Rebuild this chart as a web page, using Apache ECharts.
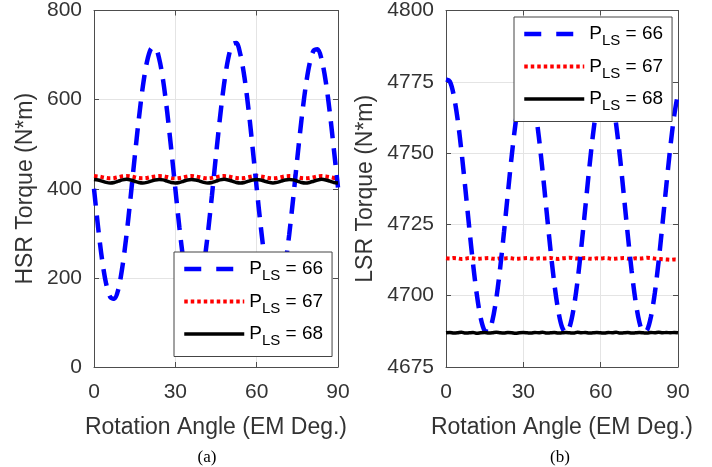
<!DOCTYPE html>
<html><head><meta charset="utf-8">
<script src="https://cdn.jsdelivr.net/npm/echarts@6/dist/echarts.min.js"></script>
<style>html,body{margin:0;padding:0;background:#fff}#c{width:712px;height:467px}</style>
</head><body><div id="c"></div>
<script>
// Rotation angle (EM deg.)
const angles = [0,1.5,3,4.5,6,7.5,9,10.5,12,13.5,15,16.5,18,19.5,21,22.5,24,25.5,27,28.5,
  30,31.5,33,34.5,36,37.5,39,40.5,42,43.5,45,46.5,48,49.5,51,52.5,54,55.5,57,58.5,
  60,61.5,63,64.5,66,67.5,69,70.5,72,73.5,75,76.5,78,79.5,81,82.5,84,85.5,87,88.5,90];

// (a) HSR torque
const hsr66 = [400,314,240,186,157,153,175,226,297,381,470,555,629,684,714,717,693,643,572,488,
  400,313,238,184,155,151,176,228,300,385,475,561,636,692,724,727,701,650,578,492,
  402,316,241,187,158,153,177,227,297,380,469,553,626,680,710,713,689,640,570,487,403];
const hsr67 = [428.5,427.6,426.1,424.3,423.4,424.1,426.0,427.9,
  428.6,427.7,425.9,424.0,423.6,424.3,426.1,427.7,
  428.4,427.9,426.2,424.2,423.3,424.2,425.9,427.8,
  428.7,427.6,426.0,424.1,423.5,424.4,426.2,427.9,
  428.5,427.8,425.8,424.2,423.6,424.1,426.0,427.7,
  428.6,427.7,426.1,424.3,423.4,424.2,426.1,427.8,
  428.4,427.9,426.0,424.0,423.5,424.3,425.9,427.9,
  428.6,427.7,426.1,424.2,423.5];
const hsr68 = [421.0,419.7,417.1,414.3,412.9,414.1,417.0,419.9,
  421.1,419.8,416.9,414.2,413.0,414.3,417.1,419.7,
  420.9,419.9,417.0,414.1,413.1,414.2,416.9,419.8,
  421.0,419.7,417.2,414.3,412.9,414.1,417.0,419.9,
  421.1,419.8,417.0,414.2,413.0,414.2,417.1,419.8,
  420.9,419.7,416.9,414.3,413.1,414.3,417.0,419.7,
  421.0,419.9,417.1,414.1,412.9,414.2,416.9,419.8,
  421.1,419.8,417.0,414.2,413.0];

// (b) LSR torque
const lsr66 = [4775.8,4775.1,4770.3,4761.9,4750.6,4737.6,4724.0,4711.1,4700.1,4692.0,
  4687.7,4687.4,4691.3,4698.9,4709.6,4722.3,4735.9,4749.1,4760.6,4769.4,
  4774.7,4775.9,4772.9,4765.9,4755.8,4743.4,4729.8,4716.4,4704.4,4695.0,
  4689.0,4687.0,4689.2,4695.4,4705.0,4717.1,4730.5,4744.0,4756.3,4766.3,
  4773.1,4776.0,4774.6,4769.1,4760.1,4748.5,4735.1,4721.5,4708.8,4698.3,
  4690.8,4687.3,4687.9,4692.6,4700.9,4712.2,4725.3,4738.9,4751.9,4763.0,4771.0];
const lsr67 = [4713.1,4713.0,4713.2,4713.1,4712.9,4713.0,4713.2,4713.1,4712.9,4713.0,
  4713.1,4713.2,4713.0,4712.9,4713.1,4713.0,4713.2,4713.1,4712.9,4713.0,
  4713.1,4713.2,4713.0,4712.9,4713.1,4713.0,4713.1,4713.2,4713.0,4712.9,
  4713.1,4713.2,4713.3,4713.1,4713.0,4713.1,4713.2,4713.0,4712.9,4713.1,
  4713.0,4713.2,4713.1,4712.9,4713.0,4713.1,4713.2,4713.0,4712.9,4713.1,
  4713.0,4713.1,4713.3,4713.2,4713.0,4712.9,4712.8,4712.7,4712.6,4712.7,4712.6];
const lsr68 = [4687.0,4687.1,4686.9,4687.0,4687.2,4686.9,4687.0,4687.1,4686.8,4687.0,
  4687.1,4686.9,4687.0,4687.2,4687.0,4686.9,4687.1,4687.0,4686.8,4687.0,
  4687.1,4687.0,4686.9,4687.1,4687.0,4687.2,4686.9,4687.0,4687.1,4686.9,
  4687.0,4687.1,4687.0,4686.9,4687.2,4687.0,4687.1,4686.9,4687.0,4687.1,
  4687.0,4686.9,4687.1,4687.0,4687.2,4686.9,4687.0,4687.1,4686.9,4687.0,
  4687.1,4687.0,4686.9,4687.1,4687.0,4687.2,4687.0,4687.1,4687.0,4687.1,4687.0];

const seriesNames = ['66','67','68'];
const xLabelName = 'Rotation Angle (EM Deg.)';
const yNames = ['HSR Torque (N*m)', 'LSR Torque (N*m)'];
const captions = ['(a)', '(b)'];

const FONT = 'Liberation Sans, Arial, Helvetica, sans-serif';
const TXT = '#333333';
const AX = '#4d4d4d';
const GRIDC = '#e4e4e4';

function pairs(v){ return angles.map((a,i)=>[a, v[i]]); }

function xAxes(g){
  return [{
    type:'value', gridIndex:g, min:0, max:90, interval:30, position:'bottom',
    axisLine:{show:true,onZero:false,lineStyle:{color:AX,width:1}},
    axisTick:{show:true,inside:true,length:5,lineStyle:{color:AX}},
    axisLabel:{color:TXT,fontSize:21,fontFamily:FONT,margin:15,formatter:v=>String(v)},
    splitLine:{show:true,lineStyle:{color:GRIDC,width:1}},
    name:xLabelName, nameLocation:'middle', nameGap:49,
    nameTextStyle:{color:TXT,fontSize:23,fontFamily:FONT}
  },{
    type:'value', gridIndex:g, min:0, max:90, interval:30, position:'top',
    axisLine:{show:true,onZero:false,lineStyle:{color:AX,width:1}},
    axisTick:{show:true,inside:true,length:5,lineStyle:{color:AX}},
    axisLabel:{show:false}, splitLine:{show:false}
  }];
}
function yAxes(g,min,max,step,name,gap){
  return [{
    type:'value', gridIndex:g, min:min, max:max, interval:step, position:'left',
    axisLine:{show:true,onZero:false,lineStyle:{color:AX,width:1}},
    axisTick:{show:true,inside:true,length:5,lineStyle:{color:AX}},
    axisLabel:{color:TXT,fontSize:21,fontFamily:FONT,margin:12,formatter:v=>String(v)},
    splitLine:{show:true,lineStyle:{color:GRIDC,width:1}},
    name:name, nameLocation:'middle', nameGap:gap,
    nameTextStyle:{color:TXT,fontSize:23,fontFamily:FONT}
  },{
    type:'value', gridIndex:g, min:min, max:max, interval:step, position:'right',
    axisLine:{show:true,onZero:false,lineStyle:{color:AX,width:1}},
    axisTick:{show:true,inside:true,length:5,lineStyle:{color:AX}},
    axisLabel:{show:false}, splitLine:{show:false}
  }];
}

const styles = {
  '66': {color:'#0000ff', width:4.5, type:[17,10], z:3},
  '67': {color:'#ff0000', width:4, type:[3.5,3], z:2},
  '68': {color:'#000000', width:3.5, type:'solid', z:4}
};
function mk(name, data, xi, yi){
  const s = styles[name];
  return {type:'line', name:name, data:pairs(data), xAxisIndex:xi, yAxisIndex:yi,
    symbol:'none', showSymbol:false, smooth:0.3, z:s.z, silent:true, animation:false,
    lineStyle:{color:s.color, width:s.width, type:s.type}, itemStyle:{color:s.color}};
}

const legendData = seriesNames.map(n=>({name:n,
  itemStyle:{opacity:0, color:'rgba(0,0,0,0)', borderWidth:0},
  lineStyle:{width:styles[n].width, type: n==='66'?[17,15]:styles[n].type, color:styles[n].color, opacity:1}}));
function legend(left, top){
  return {
    data:legendData, orient:'vertical', left:left, top:top, z:10,
    itemWidth:60, itemHeight:25, itemGap:8, padding:[7,9,8,8],
    backgroundColor:'#fff', borderColor:'#444', borderWidth:1, borderRadius:0,
    selectedMode:false,
    formatter: n => '{p|P}{s|LS}{e| = ' + n + '}',
    textStyle:{color:'#000', fontFamily:FONT,
      rich:{
        p:{fontSize:19, fontFamily:FONT, color:'#000'},
        s:{fontSize:15, fontFamily:FONT, color:'#000', padding:[14,0,0,0]},
        e:{fontSize:19, fontFamily:FONT, color:'#000'}
      }}
  };
}

const option = {
  backgroundColor:'#fff',
  animation:false,
  grid:[
    {left:94, top:10, width:244, height:357},
    {left:446, top:10, width:232, height:357}
  ],
  xAxis:[...xAxes(0), ...xAxes(1)],
  yAxis:[...yAxes(0,0,800,200,yNames[0],57), ...yAxes(1,4675,4800,25,yNames[1],69)],
  legend:[legend(174,252), legend(514,17)],
  series:[
    mk('66',hsr66,0,0), mk('67',hsr67,0,0), mk('68',hsr68,0,0),
    mk('66',lsr66,2,2), mk('67',lsr67,2,2), mk('68',lsr68,2,2)
  ],
  graphic:[
    {type:'text', style:{text:captions[0], x:207, y:458, textAlign:'center', textVerticalAlign:'middle', font:'17px "Liberation Serif", "Times New Roman", serif', fill:'#000'}},
    {type:'text', style:{text:captions[1], x:560, y:458, textAlign:'center', textVerticalAlign:'middle', font:'17px "Liberation Serif", "Times New Roman", serif', fill:'#000'}}
  ]
};
const chart = echarts.init(document.getElementById('c'), null, {renderer:'canvas'});
chart.setOption(option);
</script>
</body></html>
